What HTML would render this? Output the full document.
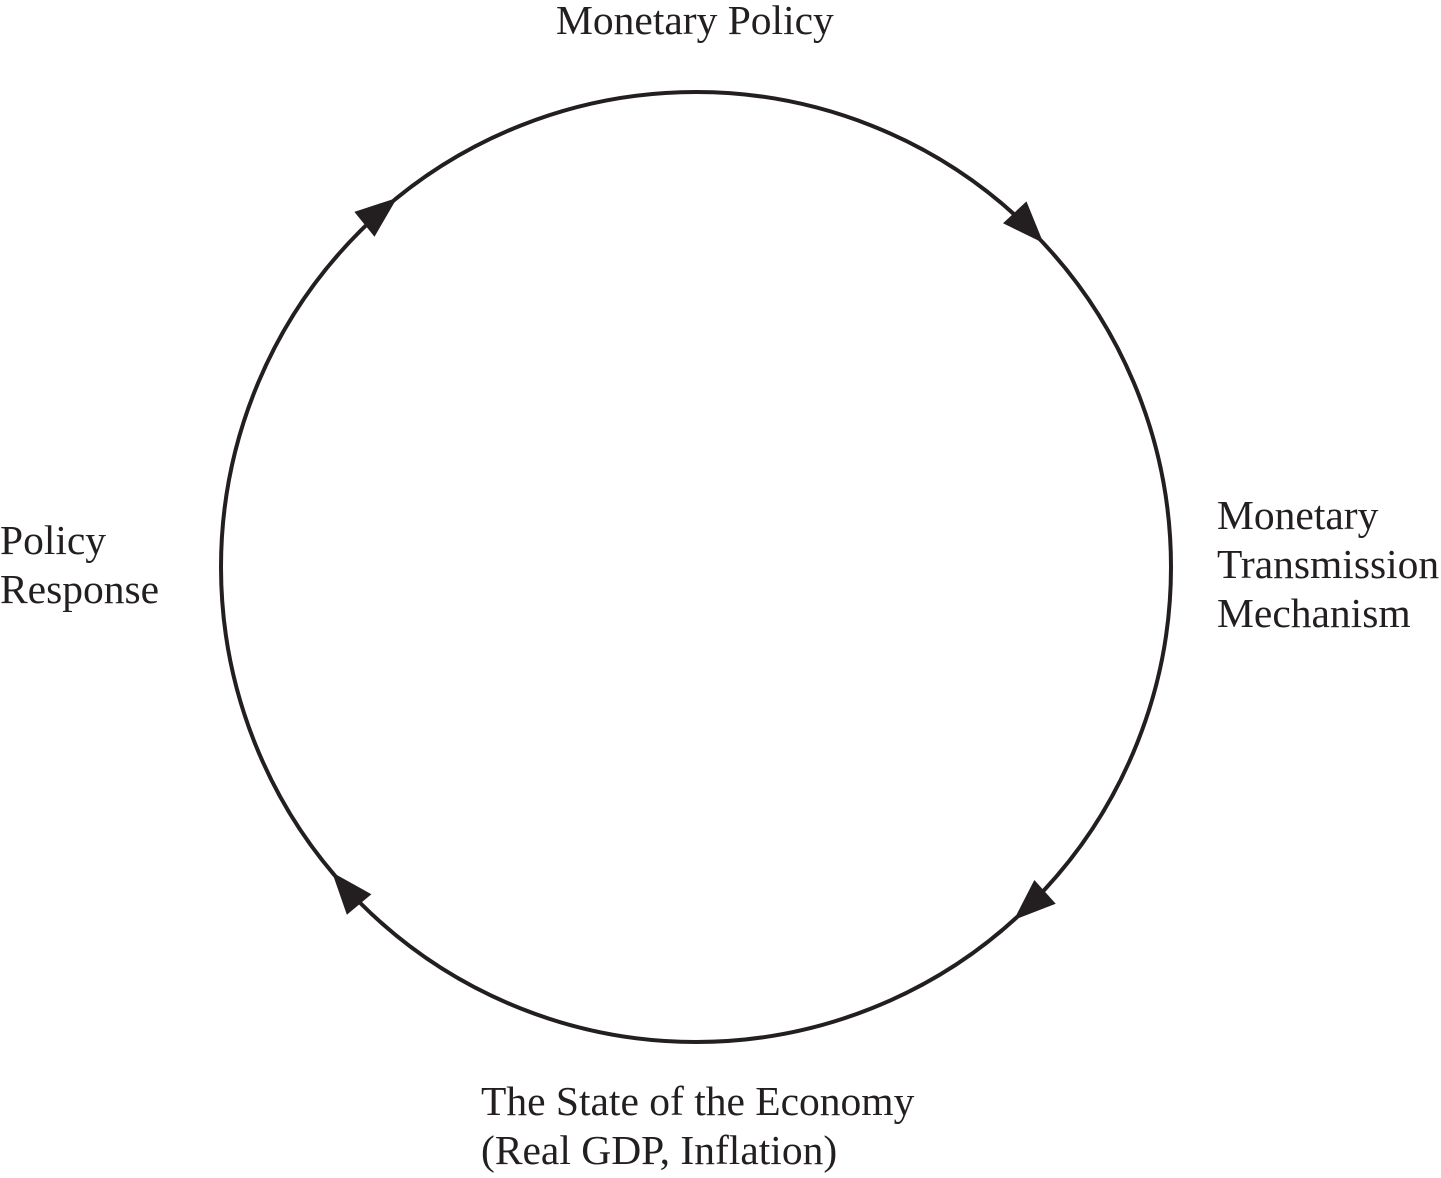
<!DOCTYPE html>
<html><head><meta charset="utf-8"><style>
html,body{margin:0;padding:0;background:#fff;}
body{width:1441px;height:1178px;position:relative;overflow:hidden;font-family:"Liberation Serif",serif;font-size:41.5px;color:#231f20;}
.t{position:absolute;line-height:49px;white-space:nowrap;}
svg{position:absolute;left:0;top:0;}
</style></head><body>
<svg width="1441" height="1178" id="s">
<circle cx="696" cy="567" r="475" fill="none" stroke="#231f20" stroke-width="4"/>
</svg>
<div class="t" style="left:556px;top:-4px;">Monetary Policy</div>
<div class="t" style="left:1217px;top:491px;">Monetary<br>Transmission<br>Mechanism</div>
<div class="t" style="left:0px;top:516px;">Policy<br>Response</div>
<div class="t" style="left:481px;top:1077px;">The State of the Economy<br>(Real GDP, Inflation)</div>
<script>
var s=document.getElementById('s'),cx=696,cy=567,r=475;
[231,317,48,140].forEach(function(a){
 var t=a*Math.PI/180,x=cx+r*Math.cos(t),y=cy+r*Math.sin(t),rot=a+90;
 var p=document.createElementNS('http://www.w3.org/2000/svg','polygon');
 p.setAttribute('points','0,0 -42,-16 -42,16');
 p.setAttribute('fill','#231f20');
 p.setAttribute('transform','translate('+x+','+y+') rotate('+rot+')');
 s.appendChild(p);
});
</script>
</body></html>
